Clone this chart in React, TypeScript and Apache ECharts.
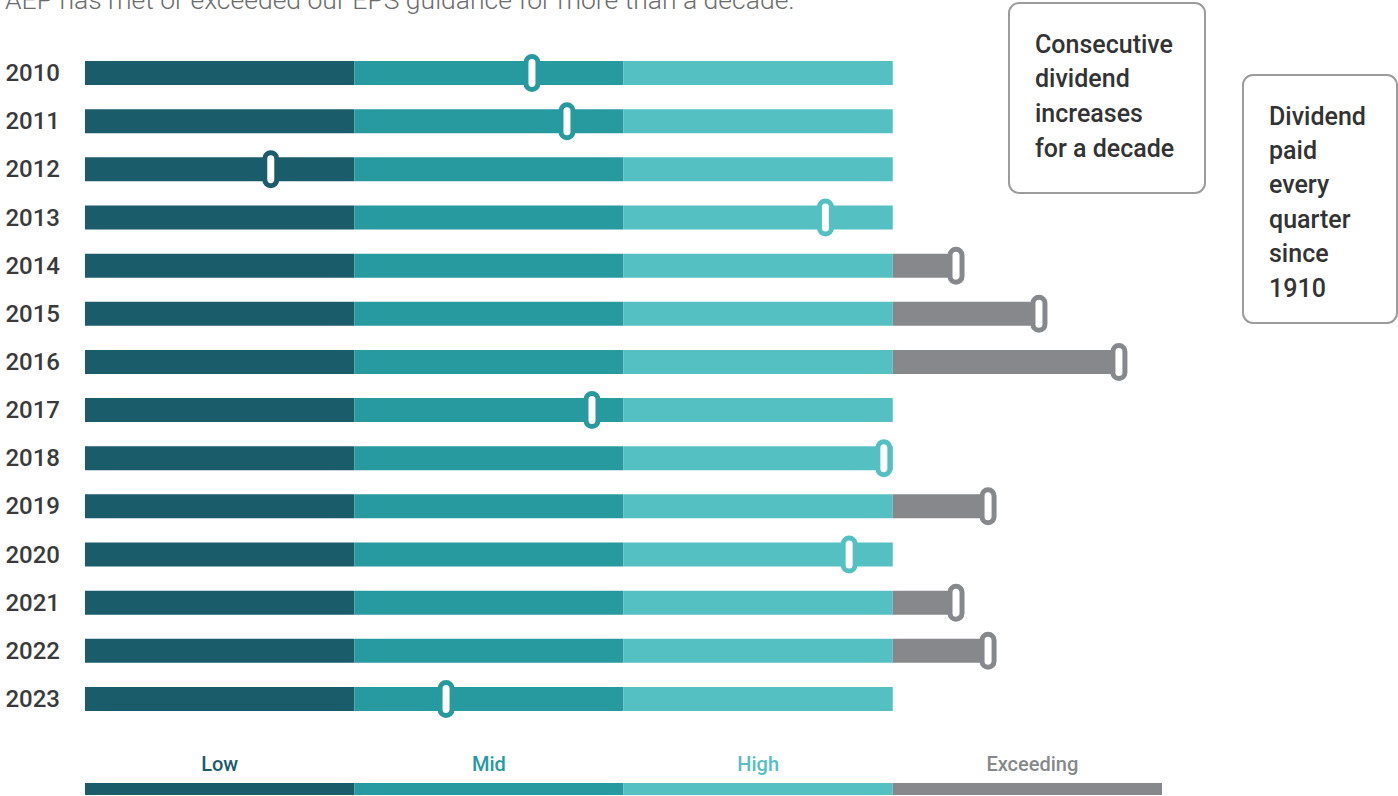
import React, { useEffect, useRef } from "react";
import * as echarts from "echarts";

const years = ["2010", "2011", "2012", "2013", "2014", "2015", "2016", "2017", "2018", "2019", "2020", "2021", "2022", "2023"];
// EPS result position on guidance scale: 0-1 Low, 1-2 Mid, 2-3 High, >3 Exceeding
const results = [1.66, 1.79, 0.69, 2.75, 3.235, 3.543, 3.84, 1.883, 2.967, 3.354, 2.838, 3.235, 3.354, 1.341];
const bands = ["Low", "Mid", "High", "Exceeding"];
const bandColors = ["#1B5C6B", "#279AA0", "#55C0C1", "#86888B"];
const headline = "AEP has met or exceeded our EPS guidance for more than a decade.";
const box1Lines = ["Consecutive", "dividend", "increases", "for a decade"];
const box2Lines = ["Dividend", "paid", "every", "quarter", "since", "1910"];

const FONT = "Roboto, 'Noto Sans', sans-serif";

export default function App() {
  const ref = useRef<HTMLDivElement>(null);
  useEffect(() => {
    if (!ref.current) return;
    const chart = echarts.init(ref.current, undefined, { renderer: "svg" });

    const mainBars = bands.slice(0, 3).map((name, k) => ({
      name,
      type: "bar",
      stack: "main",
      xAxisIndex: 0,
      yAxisIndex: 0,
      barWidth: 24,
      itemStyle: { color: bandColors[k] },
      data: years.map(() => 1),
      silent: true,
    }));
    const exceedBar = {
      name: "Exceeding",
      type: "bar",
      stack: "main",
      xAxisIndex: 0,
      yAxisIndex: 0,
      barWidth: 24,
      itemStyle: { color: bandColors[3] },
      data: results.map((v) => (v > 3 ? v - 3 : 0)),
      silent: true,
    };
    const markers = {
      type: "custom",
      xAxisIndex: 0,
      yAxisIndex: 0,
      z: 5,
      encode: { x: 0, y: 1 },
      data: results.map((v, i) => [v, i]),
      renderItem: (params: any, api: any) => {
        const v = api.value(0);
        const p = api.coord([v, api.value(1)]);
        const color = bandColors[Math.min(3, Math.floor(v))];
        return {
          type: "rect",
          shape: { x: p[0] - 6, y: p[1] - 16.5, width: 12, height: 33, r: 6 },
          style: { fill: "#ffffff", stroke: color, lineWidth: 5 },
        };
      },
      silent: true,
    };
    const legendBars = bands.map((name, k) => ({
      name: name + "-legend",
      type: "bar",
      stack: "legend",
      xAxisIndex: 1,
      yAxisIndex: 1,
      barWidth: 12,
      itemStyle: { color: bandColors[k] },
      data: [1],
      label: {
        show: true,
        position: "top",
        distance: 9,
        offset: [k === 3 ? 5 : 0, 0],
        formatter: () => name,
        color: bandColors[k],
        fontSize: 20,
        fontWeight: 500,
        fontFamily: FONT,
      },
      silent: true,
    }));

    const graphic: any[] = [
      {
        type: "text",
        x: 5,
        y: 13,
        style: {
          text: headline,
          fill: "#6d6d6d",
          fontSize: 26.5,
          fontWeight: 300,
          fontFamily: FONT,
          verticalAlign: "bottom",
        },
      },
      {
        type: "rect",
        shape: { x: 1009, y: 3, width: 196, height: 190, r: 10 },
        style: { fill: "none", stroke: "#9c9c9c", lineWidth: 2 },
      },
      {
        type: "rect",
        shape: { x: 1243, y: 75, width: 154, height: 248, r: 10 },
        style: { fill: "none", stroke: "#9c9c9c", lineWidth: 2 },
      },
    ];
    box1Lines.forEach((t, i) => {
      graphic.push({
        type: "text",
        x: 1035,
        y: 44 + i * 34.7,
        style: { text: t, fill: "#333", fontSize: 25, fontWeight: 500, fontFamily: FONT, verticalAlign: "middle" },
      });
    });
    box2Lines.forEach((t, i) => {
      graphic.push({
        type: "text",
        x: 1269,
        y: 116 + i * 34.4,
        style: { text: t, fill: "#333", fontSize: 25, fontWeight: 500, fontFamily: FONT, verticalAlign: "middle" },
      });
    });

    chart.setOption({
      animation: false,
      grid: [
        { left: 85, width: 1077, top: 49, height: 674, containLabel: false },
        { left: 85, width: 1077, top: 783, height: 12, containLabel: false },
      ],
      xAxis: [
        { type: "value", gridIndex: 0, min: 0, max: 4, show: false },
        { type: "value", gridIndex: 1, min: 0, max: 4, show: false },
      ],
      yAxis: [
        {
          type: "category",
          gridIndex: 0,
          data: years,
          inverse: true,
          axisLine: { show: false },
          axisTick: { show: false },
          splitLine: { show: false },
          axisLabel: {
            margin: 25,
            fontSize: 24,
            fontWeight: 500,
            color: "#3a3a3a",
            fontFamily: FONT,
          },
        },
        { type: "category", gridIndex: 1, data: ["legend"], show: false },
      ],
      series: [...mainBars, exceedBar, markers, ...legendBars],
      graphic,
    });
    return () => chart.dispose();
  }, []);
  return <div ref={ref} style={{ position: "absolute", left: 0, top: 0, width: 1398, height: 796 }} />;
}
